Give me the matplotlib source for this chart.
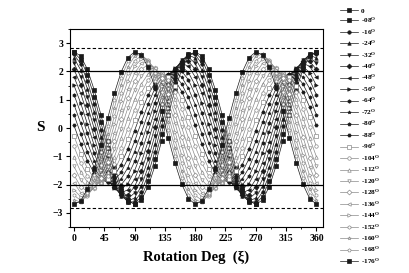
import numpy as np
import matplotlib
matplotlib.use('Agg')
import matplotlib.pyplot as plt
from matplotlib.ticker import MultipleLocator

plt.rcParams['font.family'] = ['Liberation Serif', 'DejaVu Serif']
plt.rcParams['font.weight'] = 'bold'
plt.rcParams['mathtext.fontset'] = 'custom'
plt.rcParams['mathtext.rm'] = 'Liberation Serif:bold'
plt.rcParams['mathtext.it'] = 'Liberation Serif:bold'

# rotation angle xi (deg), sampled every 10 deg
xi = np.arange(0, 361, 10)

# legend labels (theta in degrees)
theta_labels = ['0', '-08', '-16', '-24', '-32', '-40', '-48', '-56', '-64', '-72',
                '-80', '-88', '-96', '-104', '-112', '-120', '-128', '-136', '-144',
                '-152', '-160', '-168', '-176']

# S values, one list per theta
s_000 = [2.70, 2.54, 2.07, 1.35, 0.47, -0.47, -1.35, -2.07, -2.54,
         -2.70, -2.54, -2.07, -1.35, -0.47, 0.47, 1.35, 2.07, 2.54,
         2.70, 2.54, 2.07, 1.35, 0.47, -0.47, -1.35, -2.07, -2.54,
         -2.70, -2.54, -2.07, -1.35, -0.47, 0.47, 1.35, 2.07, 2.54, 2.70]
s_008 = [2.67, 2.42, 1.88, 1.11, 0.20, -0.72, -1.57, -2.22, -2.60,
         -2.67, -2.42, -1.88, -1.11, -0.20, 0.72, 1.57, 2.22, 2.60,
         2.67, 2.42, 1.88, 1.11, 0.20, -0.72, -1.57, -2.22, -2.60,
         -2.67, -2.42, -1.88, -1.11, -0.20, 0.72, 1.57, 2.22, 2.60, 2.67]
s_016 = [2.60, 2.26, 1.65, 0.84, -0.07, -0.97, -1.75, -2.33, -2.62,
         -2.60, -2.26, -1.65, -0.84, 0.07, 0.97, 1.75, 2.33, 2.62,
         2.60, 2.26, 1.65, 0.84, -0.07, -0.97, -1.75, -2.33, -2.62,
         -2.60, -2.26, -1.65, -0.84, 0.07, 0.97, 1.75, 2.33, 2.62, 2.60]
s_024 = [2.47, 2.05, 1.39, 0.56, -0.33, -1.19, -1.90, -2.39, -2.58,
         -2.47, -2.05, -1.39, -0.56, 0.33, 1.19, 1.90, 2.39, 2.58,
         2.47, 2.05, 1.39, 0.56, -0.33, -1.19, -1.90, -2.39, -2.58,
         -2.47, -2.05, -1.39, -0.56, 0.33, 1.19, 1.90, 2.39, 2.58, 2.47]
s_032 = [2.29, 1.81, 1.11, 0.27, -0.59, -1.39, -2.02, -2.40, -2.50,
         -2.29, -1.81, -1.11, -0.27, 0.59, 1.39, 2.02, 2.40, 2.50,
         2.29, 1.81, 1.11, 0.27, -0.59, -1.39, -2.02, -2.40, -2.50,
         -2.29, -1.81, -1.11, -0.27, 0.59, 1.39, 2.02, 2.40, 2.50, 2.29]
s_040 = [2.07, 1.53, 0.80, -0.02, -0.84, -1.56, -2.09, -2.37, -2.36,
         -2.07, -1.53, -0.80, 0.02, 0.84, 1.56, 2.09, 2.37, 2.36,
         2.07, 1.53, 0.80, -0.02, -0.84, -1.56, -2.09, -2.37, -2.36,
         -2.07, -1.53, -0.80, 0.02, 0.84, 1.56, 2.09, 2.37, 2.36, 2.07]
s_048 = [1.81, 1.22, 0.48, -0.32, -1.08, -1.71, -2.13, -2.29, -2.18,
         -1.81, -1.22, -0.48, 0.32, 1.08, 1.71, 2.13, 2.29, 2.18,
         1.81, 1.22, 0.48, -0.32, -1.08, -1.71, -2.13, -2.29, -2.18,
         -1.81, -1.22, -0.48, 0.32, 1.08, 1.71, 2.13, 2.29, 2.18, 1.81]
s_056 = [1.51, 0.88, 0.14, -0.61, -1.29, -1.81, -2.12, -2.17, -1.96,
         -1.51, -0.88, -0.14, 0.61, 1.29, 1.81, 2.12, 2.17, 1.96,
         1.51, 0.88, 0.14, -0.61, -1.29, -1.81, -2.12, -2.17, -1.96,
         -1.51, -0.88, -0.14, 0.61, 1.29, 1.81, 2.12, 2.17, 1.96, 1.51]
s_064 = [1.18, 0.53, -0.19, -0.89, -1.48, -1.89, -2.07, -2.01, -1.70,
         -1.18, -0.53, 0.19, 0.89, 1.48, 1.89, 2.07, 2.01, 1.70,
         1.18, 0.53, -0.19, -0.89, -1.48, -1.89, -2.07, -2.01, -1.70,
         -1.18, -0.53, 0.19, 0.89, 1.48, 1.89, 2.07, 2.01, 1.70, 1.18]
s_072 = [0.83, 0.17, -0.52, -1.15, -1.64, -1.92, -1.98, -1.80, -1.40,
         -0.83, -0.17, 0.52, 1.15, 1.64, 1.92, 1.98, 1.80, 1.40,
         0.83, 0.17, -0.52, -1.15, -1.64, -1.92, -1.98, -1.80, -1.40,
         -0.83, -0.17, 0.52, 1.15, 1.64, 1.92, 1.98, 1.80, 1.40, 0.83]
s_080 = [0.47, -0.20, -0.84, -1.39, -1.76, -1.92, -1.86, -1.56, -1.08,
         -0.47, 0.20, 0.84, 1.39, 1.76, 1.92, 1.86, 1.56, 1.08,
         0.47, -0.20, -0.84, -1.39, -1.76, -1.92, -1.86, -1.56, -1.08,
         -0.47, 0.20, 0.84, 1.39, 1.76, 1.92, 1.86, 1.56, 1.08, 0.47]
s_088 = [0.09, -0.56, -1.15, -1.60, -1.85, -1.89, -1.69, -1.29, -0.74,
         -0.09, 0.56, 1.15, 1.60, 1.85, 1.89, 1.69, 1.29, 0.74,
         0.09, -0.56, -1.15, -1.60, -1.85, -1.89, -1.69, -1.29, -0.74,
         -0.09, 0.56, 1.15, 1.60, 1.85, 1.89, 1.69, 1.29, 0.74, 0.09]
s_096 = [-0.28, -0.91, -1.43, -1.78, -1.91, -1.81, -1.50, -1.00, -0.38,
         0.28, 0.91, 1.43, 1.78, 1.91, 1.81, 1.50, 1.00, 0.38,
         -0.28, -0.91, -1.43, -1.78, -1.91, -1.81, -1.50, -1.00, -0.38,
         0.28, 0.91, 1.43, 1.78, 1.91, 1.81, 1.50, 1.00, 0.38, -0.28]
s_104 = [-0.65, -1.24, -1.69, -1.92, -1.93, -1.70, -1.27, -0.69, -0.02,
         0.65, 1.24, 1.69, 1.92, 1.93, 1.70, 1.27, 0.69, 0.02,
         -0.65, -1.24, -1.69, -1.92, -1.93, -1.70, -1.27, -0.69, -0.02,
         0.65, 1.24, 1.69, 1.92, 1.93, 1.70, 1.27, 0.69, 0.02, -0.65]
s_112 = [-1.01, -1.55, -1.91, -2.03, -1.91, -1.56, -1.02, -0.36, 0.35,
         1.01, 1.55, 1.91, 2.03, 1.91, 1.56, 1.02, 0.36, -0.35,
         -1.01, -1.55, -1.91, -2.03, -1.91, -1.56, -1.02, -0.36, 0.35,
         1.01, 1.55, 1.91, 2.03, 1.91, 1.56, 1.02, 0.36, -0.35, -1.01]
s_120 = [-1.35, -1.83, -2.09, -2.10, -1.85, -1.39, -0.75, -0.02, 0.71,
         1.35, 1.83, 2.09, 2.10, 1.85, 1.39, 0.75, 0.02, -0.71,
         -1.35, -1.83, -2.09, -2.10, -1.85, -1.39, -0.75, -0.02, 0.71,
         1.35, 1.83, 2.09, 2.10, 1.85, 1.39, 0.75, 0.02, -0.71, -1.35]
s_128 = [-1.66, -2.07, -2.24, -2.13, -1.76, -1.19, -0.47, 0.31, 1.05,
         1.66, 2.07, 2.24, 2.13, 1.76, 1.19, 0.47, -0.31, -1.05,
         -1.66, -2.07, -2.24, -2.13, -1.76, -1.19, -0.47, 0.31, 1.05,
         1.66, 2.07, 2.24, 2.13, 1.76, 1.19, 0.47, -0.31, -1.05, -1.66]
s_136 = [-1.94, -2.28, -2.34, -2.11, -1.64, -0.96, -0.17, 0.64, 1.37,
         1.94, 2.28, 2.34, 2.11, 1.64, 0.96, 0.17, -0.64, -1.37,
         -1.94, -2.28, -2.34, -2.11, -1.64, -0.96, -0.17, 0.64, 1.37,
         1.94, 2.28, 2.34, 2.11, 1.64, 0.96, 0.17, -0.64, -1.37, -1.94]
s_144 = [-2.18, -2.43, -2.39, -2.06, -1.48, -0.72, 0.13, 0.96, 1.67,
         2.18, 2.43, 2.39, 2.06, 1.48, 0.72, -0.13, -0.96, -1.67,
         -2.18, -2.43, -2.39, -2.06, -1.48, -0.72, 0.13, 0.96, 1.67,
         2.18, 2.43, 2.39, 2.06, 1.48, 0.72, -0.13, -0.96, -1.67, -2.18]
s_152 = [-2.38, -2.55, -2.40, -1.96, -1.29, -0.46, 0.42, 1.25, 1.94,
         2.38, 2.55, 2.40, 1.96, 1.29, 0.46, -0.42, -1.25, -1.94,
         -2.38, -2.55, -2.40, -1.96, -1.29, -0.46, 0.42, 1.25, 1.94,
         2.38, 2.55, 2.40, 1.96, 1.29, 0.46, -0.42, -1.25, -1.94, -2.38]
s_160 = [-2.54, -2.61, -2.36, -1.83, -1.08, -0.20, 0.71, 1.53, 2.16,
         2.54, 2.61, 2.36, 1.83, 1.08, 0.20, -0.71, -1.53, -2.16,
         -2.54, -2.61, -2.36, -1.83, -1.08, -0.20, 0.71, 1.53, 2.16,
         2.54, 2.61, 2.36, 1.83, 1.08, 0.20, -0.71, -1.53, -2.16, -2.54]
s_168 = [-2.64, -2.62, -2.28, -1.66, -0.85, 0.07, 0.98, 1.77, 2.35,
         2.64, 2.62, 2.28, 1.66, 0.85, -0.07, -0.98, -1.77, -2.35,
         -2.64, -2.62, -2.28, -1.66, -0.85, 0.07, 0.98, 1.77, 2.35,
         2.64, 2.62, 2.28, 1.66, 0.85, -0.07, -0.98, -1.77, -2.35, -2.64]
s_176 = [-2.69, -2.58, -2.15, -1.46, -0.60, 0.34, 1.23, 1.98, 2.49,
         2.69, 2.58, 2.15, 1.46, 0.60, -0.34, -1.23, -1.98, -2.49,
         -2.69, -2.58, -2.15, -1.46, -0.60, 0.34, 1.23, 1.98, 2.49,
         2.69, 2.58, 2.15, 1.46, 0.60, -0.34, -1.23, -1.98, -2.49, -2.69]

series = [s_000, s_008, s_016, s_024, s_032, s_040, s_048, s_056, s_064, s_072,
          s_080, s_088, s_096, s_104, s_112, s_120, s_128, s_136, s_144, s_152,
          s_160, s_168, s_176]

# classical and quantum bounds
classical_bound = 2.0
quantum_bound = 2.83

markers = ['s', 's', 'o', '^', 'v', 'D', '<', '>', 'h', '*', 'p', 'H',
           's', 'o', '^', 'v', 'D', '<', '>', 'h', '*', 'p', 's']

fig = plt.figure(figsize=(4.09, 2.73), dpi=100)
ax = fig.add_axes([0.171, 0.168, 0.619, 0.726])

for i, (lab, s) in enumerate(zip(theta_labels, series)):
    filled = i < 12 or i == 22
    if filled:
        col, face = '#1a1a1a', '#1a1a1a'
    else:
        col, face = '#8a8a8a', 'white'
    label = lab if lab == '0' else lab + r'$^{\mathrm{O}}$'
    ax.plot(xi, s, color=col, lw=0.5, marker=markers[i], ms=2.5,
            mfc=face, mec=col, mew=0.5, label=label, zorder=2)

for b in (classical_bound, -classical_bound):
    ax.axhline(b, color='k', lw=0.9, zorder=3)
for b in (quantum_bound, -quantum_bound):
    ax.axhline(b, color='k', lw=0.8, ls=(0, (3, 2)), zorder=3)

ax.set_xlim(-6, 370)
ax.set_ylim(-3.5, 3.5)
ax.xaxis.set_major_locator(MultipleLocator(45))
ax.xaxis.set_minor_locator(MultipleLocator(22.5))
ax.yaxis.set_major_locator(MultipleLocator(1))
ax.yaxis.set_minor_locator(MultipleLocator(0.5))
ax.tick_params(which='major', direction='out', length=3, width=0.8,
               labelsize=7, pad=2, top=False, right=False)
ax.tick_params(which='minor', direction='out', length=1.6, width=0.6,
               top=False, right=False)
for t in ax.get_xticklabels() + ax.get_yticklabels():
    t.set_fontweight('bold')
for sp in ax.spines.values():
    sp.set_linewidth(0.8)

ax.set_xlabel('Rotation Deg  (\u03be)', fontsize=10.5, fontweight='bold')
ax.xaxis.set_label_coords(0.5, -0.12)
ax.set_ylabel('S', fontsize=11, fontweight='bold', rotation=0)
ax.yaxis.set_label_coords(-0.115, 0.47)

leg = ax.legend(loc='upper left', bbox_to_anchor=(0.832, 0.972),
                bbox_transform=fig.transFigure, frameon=False, fontsize=5.2,
                handlelength=2.4, handletextpad=0.4, labelspacing=0.3,
                borderaxespad=0, borderpad=0, numpoints=1, markerscale=1.0)

fig.savefig('out.png', dpi=100)
